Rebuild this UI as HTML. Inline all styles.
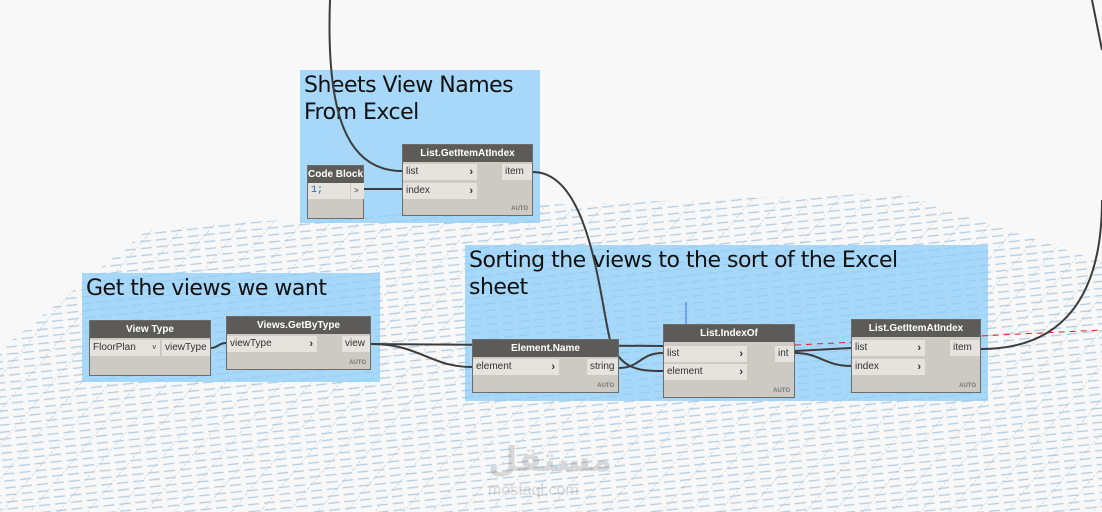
<!DOCTYPE html>
<html><head><meta charset="utf-8"><style>
body{margin:0;width:1102px;height:512px;overflow:hidden;background:#f8f8f8;font-family:"Liberation Sans",sans-serif;}
.abs{position:absolute}
.grp{position:absolute;background:rgba(140,205,250,0.75);}
.gt{position:absolute;left:4px;top:2px;font-size:22px;color:#111;line-height:27px;font-family:"DejaVu Sans","Liberation Sans",sans-serif;letter-spacing:-0.5px}
.node{position:absolute;background:#cdc9c3;border:1px solid #6e6c69;box-sizing:border-box;font-size:10px;color:#333}
.hd{background:#5c5b59;color:#fff;font-weight:bold;text-align:center;height:17px;line-height:17px;font-size:10px}
.port{position:absolute;background:#e6e3de;height:16px;line-height:16px;padding-left:3px;box-sizing:border-box}
.port b{position:absolute;right:4px;top:0;font-size:11px;color:#333}
.auto{position:absolute;right:4px;bottom:3px;font-size:6px;font-weight:bold;color:#777}
</style></head><body>
<svg class="abs" style="left:0;top:0" width="1102" height="512">
<defs>
<pattern id="g" width="16" height="7" patternUnits="userSpaceOnUse" patternTransform="rotate(-6)">
<line x1="2" y1="3" x2="13" y2="3" stroke="#b0cde2" stroke-width="1.3"/>
</pattern>
<pattern id="d" width="22" height="22" patternUnits="userSpaceOnUse" patternTransform="rotate(40)">
<line x1="0" y1="0" x2="0" y2="22" stroke="#9fb3c2" stroke-width="0.8" stroke-dasharray="2,2"/>
</pattern>
<clipPath id="c"><polygon points="0,350 150,228 540,205 900,193 1102,262 1102,512 0,512"/></clipPath>
</defs>
<g clip-path="url(#c)">
<rect width="1102" height="512" fill="url(#g)"/>
<rect width="1102" height="512" fill="url(#d)"/>
</g>
</svg>
<div class="grp" style="left:300px;top:70px;width:240px;height:153px"><div class="gt">Sheets View Names<br>From Excel</div></div>
<div class="grp" style="left:82px;top:273px;width:298px;height:109px"><div class="gt">Get the views we want</div></div>
<div class="grp" style="left:465px;top:245px;width:523px;height:156px"><div class="gt">Sorting the views to the sort of the Excel<br>sheet</div></div>
<svg class="abs" style="left:0;top:0" width="1102" height="512" fill="none" stroke="#3c3c3c" stroke-width="2">
<line x1="686" y1="302" x2="686" y2="324" stroke="#3a6fe0" stroke-width="1"/>
<path d="M795,345 L1102,330" stroke="#e02020" stroke-width="1" stroke-dasharray="6,5"/>
<path d="M330,0 C326,110 345,171 402,171"/>
<path d="M364,189 L402,189"/>
<path d="M533,172 C590,172 600,300 610,340 C620,370 640,371 663,371"/>
<path d="M211,348 C218,348 218,343 226,343"/>
<path d="M371,344 L663,346"/>
<path d="M371,344 C420,344 430,367 472,367"/>
<path d="M619,368 C640,368 640,353 663,353"/>
<path d="M795,351 L851,348"/>
<path d="M795,353 C820,353 825,366 851,366"/>
<path d="M981,349 C1060,349 1102,300 1102,200"/>
<path d="M1092,0 C1096,20 1100,40 1102,50"/>
</svg>
<div class="node" style="left:307px;top:165px;width:57px;height:54px"><div class="hd">Code Block</div>
<div class="port" style="left:0;top:17px;width:42px;color:#1a5fd0;font-family:'Liberation Mono',monospace">1;</div><div class="port" style="left:43px;top:17px;width:13px;font-size:8px">&gt;</div></div>
<div class="node" style="left:402px;top:144px;width:131px;height:72px"><div class="hd">List.GetItemAtIndex</div>
<div class="port" style="left:0;top:19px;width:74px">list<b>›</b></div><div class="port" style="left:0;top:38px;width:74px">index<b>›</b></div>
<div class="port" style="right:0;top:19px;width:30px">item</div><div class="auto">AUTO</div></div>
<div class="node" style="left:89px;top:320px;width:122px;height:56px"><div class="hd">View Type</div>
<div class="port" style="left:0;top:19px;width:70px">FloorPlan<span style="position:absolute;right:4px;font-size:7px">v</span></div><div class="port" style="right:0;top:19px;width:48px">viewType</div></div>
<div class="node" style="left:226px;top:316px;width:145px;height:54px"><div class="hd">Views.GetByType</div>
<div class="port" style="left:0;top:19px;width:90px">viewType<b>›</b></div><div class="port" style="right:0;top:19px;width:28px">view</div><div class="auto">AUTO</div></div>
<div class="node" style="left:472px;top:339px;width:147px;height:54px"><div class="hd">Element.Name</div>
<div class="port" style="left:0;top:19px;width:86px">element<b>›</b></div><div class="port" style="right:0;top:19px;width:31px">string</div><div class="auto">AUTO</div></div>
<div class="node" style="left:663px;top:324px;width:132px;height:74px"><div class="hd">List.IndexOf</div>
<div class="port" style="left:0;top:21px;width:83px">list<b>›</b></div><div class="port" style="left:0;top:39px;width:83px">element<b>›</b></div>
<div class="port" style="right:0;top:21px;width:19px">int</div><div class="auto">AUTO</div></div>
<div class="node" style="left:851px;top:319px;width:130px;height:74px"><div class="hd">List.GetItemAtIndex</div>
<div class="port" style="left:0;top:20px;width:73px">list<b>›</b></div><div class="port" style="left:0;top:39px;width:73px">index<b>›</b></div>
<div class="port" style="right:0;top:20px;width:30px">item</div><div class="auto">AUTO</div></div>
<div class="abs" style="left:488px;top:440px;font-size:34px;font-weight:bold;color:rgba(120,120,120,0.25);font-family:'DejaVu Sans',sans-serif">مستقل</div>
<div class="abs" style="left:488px;top:482px;font-size:16px;color:rgba(120,120,120,0.25)">mostaql.com</div>
</body></html>
